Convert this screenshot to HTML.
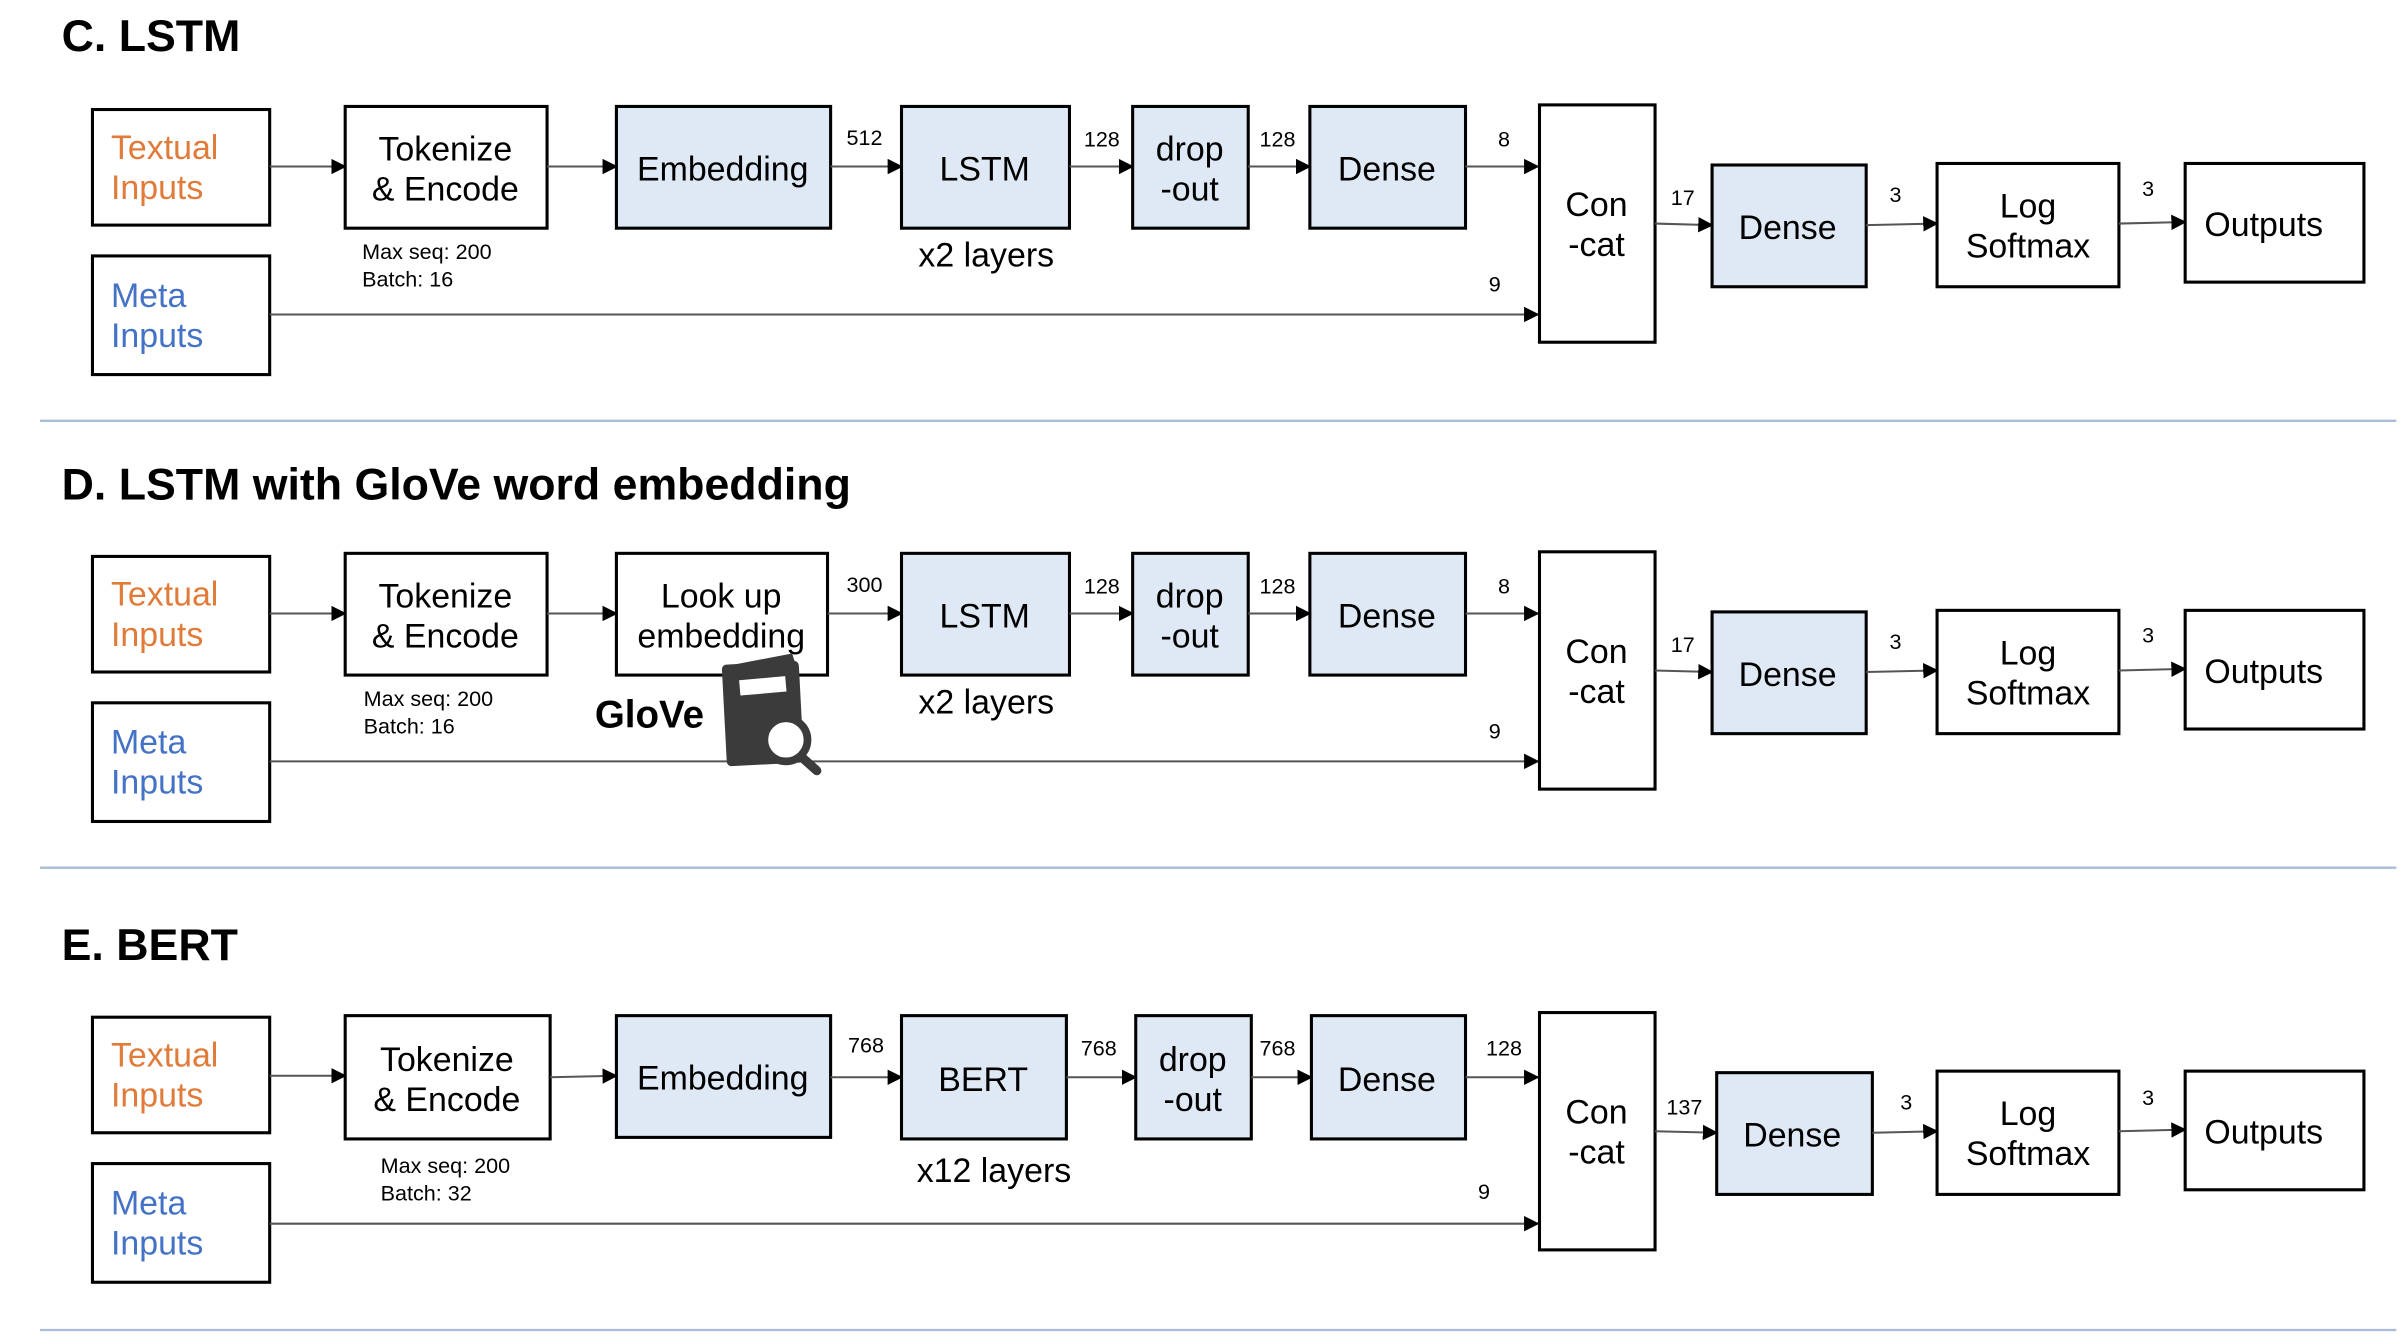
<!DOCTYPE html>
<html><head><meta charset="utf-8"><style>
html,body{margin:0;padding:0;background:#fff}
svg{display:block}
text{font-family:"Liberation Sans",sans-serif}
.t{font-size:22px;text-anchor:middle;fill:#000}
.s{font-size:14px;fill:#000}
.n{font-size:14px;text-anchor:middle;fill:#000}
.h{font-size:29px;font-weight:bold;fill:#000}
.b{stroke:#000;stroke-width:2;fill:#fff}
.f{stroke:#000;stroke-width:2;fill:#dfe9f5}
.l{stroke:#555;stroke-width:1.3;fill:none}
.sep{stroke:#a9bcd9;stroke-width:1.5}
</style></head><body>
<svg width="2404" height="1344" viewBox="0 0 1560 872" xmlns="http://www.w3.org/2000/svg">
<defs><marker id="a" markerWidth="10" markerHeight="10" refX="9" refY="5" orient="auto" markerUnits="userSpaceOnUse"><path d="M0,0 L10,5 L0,10z" fill="#000"/></marker></defs>

<!-- C -->
<g>
<text class="h" x="40" y="33">C. LSTM</text>
<rect class="b" x="60" y="71" width="115" height="75"/>
<text x="72" y="103" style="font-size:22px;fill:#e07b39">Textual</text>
<text x="72" y="129" style="font-size:22px;fill:#e07b39">Inputs</text>
<rect class="b" x="60" y="166" width="115" height="77"/>
<text x="72" y="199" style="font-size:22px;fill:#4472c4">Meta</text>
<text x="72" y="225" style="font-size:22px;fill:#4472c4">Inputs</text>
<rect class="b" x="224" y="69" width="131" height="79"/>
<text class="t" x="289" y="104">Tokenize</text><text class="t" x="289" y="130">&amp; Encode</text>
<text class="s" x="235" y="168">Max seq: 200</text><text class="s" x="235" y="186">Batch: 16</text>
<rect class="f" x="400" y="69" width="139" height="79"/><text class="t" x="469" y="117">Embedding</text>
<rect class="f" x="585" y="69" width="109" height="79"/><text class="t" x="639" y="117">LSTM</text>
<text class="t" x="640" y="173">x2 layers</text>
<rect class="f" x="735" y="69" width="75" height="79"/><text class="t" x="772" y="104">drop</text><text class="t" x="772" y="130">-out</text>
<rect class="f" x="850" y="69" width="101" height="79"/><text class="t" x="900" y="117">Dense</text>
<rect class="b" x="999" y="68" width="75" height="154"/><text class="t" x="1036" y="140">Con</text><text class="t" x="1036" y="166">-cat</text>
<rect class="f" x="1111" y="107" width="100" height="79"/><text class="t" x="1160" y="155">Dense</text>
<rect class="b" x="1257" y="106" width="118" height="80"/><text class="t" x="1316" y="141">Log</text><text class="t" x="1316" y="167">Softmax</text>
<rect class="b" x="1418" y="106" width="116" height="77"/><text class="t" x="1469" y="153">Outputs</text>
<path class="l" marker-end="url(#a)" d="M175,108H224"/>
<path class="l" marker-end="url(#a)" d="M355,108H400"/>
<path class="l" marker-end="url(#a)" d="M539,108H585"/>
<path class="l" marker-end="url(#a)" d="M694,108H735"/>
<path class="l" marker-end="url(#a)" d="M810,108H850"/>
<path class="l" marker-end="url(#a)" d="M951,108H998"/>
<path class="l" marker-end="url(#a)" d="M175,204H998"/>
<path class="l" marker-end="url(#a)" d="M1074,145L1111,146"/>
<path class="l" marker-end="url(#a)" d="M1211,146L1257,145"/>
<path class="l" marker-end="url(#a)" d="M1375,145L1418,144"/>
<text class="n" x="561" y="94">512</text><text class="n" x="715" y="95">128</text><text class="n" x="829" y="95">128</text><text class="n" x="976" y="95">8</text>
<text class="n" x="970" y="189">9</text><text class="n" x="1092" y="133">17</text><text class="n" x="1230" y="131">3</text><text class="n" x="1394" y="127">3</text>
<line class="sep" x1="26" y1="273" x2="1555" y2="273"/>
</g>

<!-- D -->
<g>
<text class="h" x="40" y="324">D. LSTM with GloVe word embedding</text>
<rect class="b" x="60" y="361" width="115" height="75"/>
<text x="72" y="393" style="font-size:22px;fill:#e07b39">Textual</text>
<text x="72" y="419" style="font-size:22px;fill:#e07b39">Inputs</text>
<rect class="b" x="60" y="456" width="115" height="77"/>
<text x="72" y="489" style="font-size:22px;fill:#4472c4">Meta</text>
<text x="72" y="515" style="font-size:22px;fill:#4472c4">Inputs</text>
<rect class="b" x="224" y="359" width="131" height="79"/>
<text class="t" x="289" y="394">Tokenize</text><text class="t" x="289" y="420">&amp; Encode</text>
<text class="s" x="236" y="458">Max seq: 200</text><text class="s" x="236" y="476">Batch: 16</text>
<rect class="b" x="400" y="359" width="137" height="79"/><text class="t" x="468" y="394">Look up</text><text class="t" x="468" y="420">embedding</text>
<rect class="f" x="585" y="359" width="109" height="79"/><text class="t" x="639" y="407">LSTM</text>
<text class="t" x="640" y="463">x2 layers</text>
<rect class="f" x="735" y="359" width="75" height="79"/><text class="t" x="772" y="394">drop</text><text class="t" x="772" y="420">-out</text>
<rect class="f" x="850" y="359" width="101" height="79"/><text class="t" x="900" y="407">Dense</text>
<rect class="b" x="999" y="358" width="75" height="154"/><text class="t" x="1036" y="430">Con</text><text class="t" x="1036" y="456">-cat</text>
<rect class="f" x="1111" y="397" width="100" height="79"/><text class="t" x="1160" y="445">Dense</text>
<rect class="b" x="1257" y="396" width="118" height="80"/><text class="t" x="1316" y="431">Log</text><text class="t" x="1316" y="457">Softmax</text>
<rect class="b" x="1418" y="396" width="116" height="77"/><text class="t" x="1469" y="443">Outputs</text>
<path class="l" marker-end="url(#a)" d="M175,398H224"/>
<path class="l" marker-end="url(#a)" d="M355,398H400"/>
<path class="l" marker-end="url(#a)" d="M537,398H585"/>
<path class="l" marker-end="url(#a)" d="M694,398H735"/>
<path class="l" marker-end="url(#a)" d="M810,398H850"/>
<path class="l" marker-end="url(#a)" d="M951,398H998"/>
<path class="l" marker-end="url(#a)" d="M175,494H998"/>
<path class="l" marker-end="url(#a)" d="M1074,435L1111,436"/>
<path class="l" marker-end="url(#a)" d="M1211,436L1257,435"/>
<path class="l" marker-end="url(#a)" d="M1375,435L1418,434"/>
<text class="n" x="561" y="384">300</text><text class="n" x="715" y="385">128</text><text class="n" x="829" y="385">128</text><text class="n" x="976" y="385">8</text>
<text class="n" x="970" y="479">9</text><text class="n" x="1092" y="423">17</text><text class="n" x="1230" y="421">3</text><text class="n" x="1394" y="417">3</text>
<text x="386" y="472" style="font-size:25px;font-weight:bold;fill:#000">GloVe</text>
<!-- book icon -->
<rect x="470" y="430" width="50" height="66" rx="3" fill="#3b3b3b" transform="rotate(-3 495 463)"/>
<path d="M472,432 L514,424 L516,430 L474,437z" fill="#3b3b3b"/>
<rect x="480" y="440" width="30" height="10" fill="#fff" transform="rotate(-5 495 445)"/>
<circle cx="510" cy="480" r="14" fill="#fff" stroke="#3b3b3b" stroke-width="5"/>
<path d="M520,491 L530,500" stroke="#3b3b3b" stroke-width="6" stroke-linecap="round"/>
<line class="sep" x1="26" y1="563" x2="1555" y2="563"/>
</g>

<!-- E -->
<g>
<text class="h" x="40" y="623">E. BERT</text>
<rect class="b" x="60" y="660" width="115" height="75"/>
<text x="72" y="692" style="font-size:22px;fill:#e07b39">Textual</text>
<text x="72" y="718" style="font-size:22px;fill:#e07b39">Inputs</text>
<rect class="b" x="60" y="755" width="115" height="77"/>
<text x="72" y="788" style="font-size:22px;fill:#4472c4">Meta</text>
<text x="72" y="814" style="font-size:22px;fill:#4472c4">Inputs</text>
<rect class="b" x="224" y="659" width="133" height="80"/>
<text class="t" x="290" y="695">Tokenize</text><text class="t" x="290" y="721">&amp; Encode</text>
<text class="s" x="247" y="761">Max seq: 200</text><text class="s" x="247" y="779">Batch: 32</text>
<rect class="f" x="400" y="659" width="139" height="79"/><text class="t" x="469" y="707">Embedding</text>
<rect class="f" x="585" y="659" width="107" height="80"/><text class="t" x="638" y="708">BERT</text>
<text class="t" x="645" y="767">x12 layers</text>
<rect class="f" x="737" y="659" width="75" height="80"/><text class="t" x="774" y="695">drop</text><text class="t" x="774" y="721">-out</text>
<rect class="f" x="851" y="659" width="100" height="80"/><text class="t" x="900" y="708">Dense</text>
<rect class="b" x="999" y="657" width="75" height="154"/><text class="t" x="1036" y="729">Con</text><text class="t" x="1036" y="755">-cat</text>
<rect class="f" x="1114" y="696" width="101" height="79"/><text class="t" x="1163" y="744">Dense</text>
<rect class="b" x="1257" y="695" width="118" height="80"/><text class="t" x="1316" y="730">Log</text><text class="t" x="1316" y="756">Softmax</text>
<rect class="b" x="1418" y="695" width="116" height="77"/><text class="t" x="1469" y="742">Outputs</text>
<path class="l" marker-end="url(#a)" d="M175,698H224"/>
<path class="l" marker-end="url(#a)" d="M357,699L400,698"/>
<path class="l" marker-end="url(#a)" d="M539,699H585"/>
<path class="l" marker-end="url(#a)" d="M692,699H737"/>
<path class="l" marker-end="url(#a)" d="M812,699H851"/>
<path class="l" marker-end="url(#a)" d="M951,699H998"/>
<path class="l" marker-end="url(#a)" d="M175,794H998"/>
<path class="l" marker-end="url(#a)" d="M1074,734L1114,735"/>
<path class="l" marker-end="url(#a)" d="M1215,735L1257,734"/>
<path class="l" marker-end="url(#a)" d="M1375,734L1418,733"/>
<text class="n" x="562" y="683">768</text><text class="n" x="713" y="685">768</text><text class="n" x="829" y="685">768</text><text class="n" x="976" y="685">128</text>
<text class="n" x="963" y="778">9</text><text class="n" x="1093" y="723">137</text><text class="n" x="1237" y="720">3</text><text class="n" x="1394" y="717">3</text>
<line class="sep" x1="26" y1="863" x2="1555" y2="863"/>
</g>
</svg>
</body></html>
